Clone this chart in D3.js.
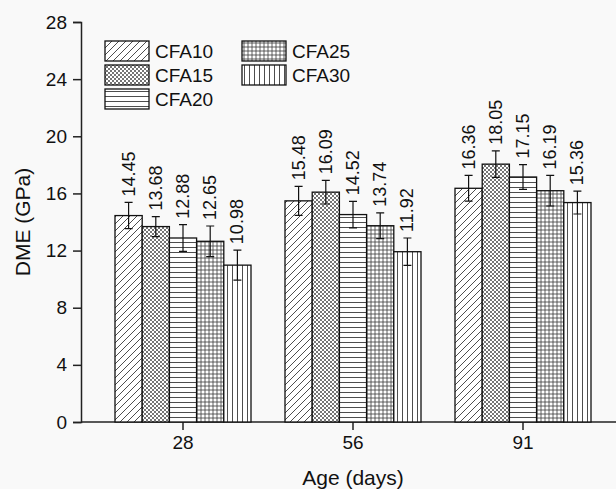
<!DOCTYPE html>
<html>
<head>
<meta charset="utf-8">
<script src="https://cdn.jsdelivr.net/npm/d3@7"></script>
<style>
  body { margin: 0; background: #f9f9f9; }
  svg { display: block; font-family: Arial, "Liberation Sans", sans-serif; }
</style>
</head>
<body>
<div id="chart"><svg></svg></div>
<script>
// data
var ages = ["28", "56", "91"];
var series = ["CFA10", "CFA15", "CFA20", "CFA25", "CFA30"];
var cfa10 = [14.45, 15.48, 16.36];
var cfa15 = [13.68, 16.09, 18.05];
var cfa20 = [12.88, 14.52, 17.15];
var cfa25 = [12.65, 13.74, 16.19];
var cfa30 = [10.98, 11.92, 15.36];
var err10 = [0.92, 1.02, 0.90];
var err15 = [0.70, 0.83, 0.93];
var err20 = [0.93, 0.93, 0.87];
var err25 = [1.07, 0.90, 1.07];
var err30 = [1.05, 0.96, 0.80];
var yTicks = [0, 4, 8, 12, 16, 20, 24, 28];

var values = [cfa10, cfa15, cfa20, cfa25, cfa30],
    errors = [err10, err15, err20, err25, err30];

var width = 616, height = 489,
    margin = { top: 22, right: 0, bottom: 67, left: 81 },
    font = "Arial, 'Liberation Sans', sans-serif";

var svg = d3.select("#chart svg")
    .attr("width", width)
    .attr("height", height);

svg.append("rect")
    .attr("width", width)
    .attr("height", height)
    .attr("fill", "#f9f9f9");

// hatch patterns
var defs = svg.append("defs");
var ink = "#3a3a3a";

function pattern(id, size, d, sw) {
    var p = defs.append("pattern")
        .attr("id", id)
        .attr("patternUnits", "userSpaceOnUse")
        .attr("width", size)
        .attr("height", size);
    p.append("rect").attr("width", size).attr("height", size).attr("fill", "#fff");
    p.append("path").attr("d", d).attr("stroke", ink).attr("stroke-width", sw).attr("fill", "none");
}
pattern("p0", 7, "M0,7L7,0M-1,1L1,-1M6,8L8,6", 0.9);
pattern("p1", 4, "M0,4L4,0M-1,1L1,-1M3,5L5,3M0,0L4,4M-1,3L1,5M3,-1L5,1", 0.7);
pattern("p2", 5, "M0,2.5H5", 0.9);
pattern("p3", 4, "M0,2H4M2,0V4", 0.8);
pattern("p4", 5, "M2.5,0V5", 0.9);

var y = d3.scaleLinear()
    .domain([0, 28])
    .range([height - margin.bottom, margin.top]);

var x0 = d3.scaleBand()
    .domain(ages)
    .range([98, 608])
    .paddingInner(0.2)
    .paddingOuter(0.1);

var x1 = d3.scaleBand()
    .domain(series)
    .range([0, x0.bandwidth()]);

// axes
var yAxis = svg.append("g")
    .attr("transform", "translate(" + margin.left + ",0)")
    .call(d3.axisLeft(y).tickValues(yTicks).tickSize(8).tickPadding(6));

var xAxis = svg.append("g")
    .attr("transform", "translate(0," + y(0) + ")")
    .call(d3.axisBottom(x0).tickSize(8).tickPadding(6));

xAxis.select(".domain").attr("d", "M" + margin.left + ",0H" + width);

[yAxis, xAxis].forEach(function(a) {
    a.attr("font-family", font).attr("font-size", 19);
    a.selectAll("path, line").attr("stroke", "#222").attr("stroke-width", 1.5);
    a.selectAll("text").attr("fill", "#111");
});

// bars
var groups = svg.append("g").selectAll("g")
    .data(ages)
    .join("g")
    .attr("transform", function(d) { return "translate(" + x0(d) + ",0)"; });

var cells = groups.selectAll("g")
    .data(function(d, i) {
        return series.map(function(s, j) {
            return { s: s, j: j, v: values[j][i], e: errors[j][i] };
        });
    })
    .join("g");

cells.append("rect")
    .attr("x", function(d) { return x1(d.s); })
    .attr("y", function(d) { return y(d.v); })
    .attr("width", x1.bandwidth())
    .attr("height", function(d) { return y(0) - y(d.v); })
    .attr("fill", function(d) { return "url(#p" + d.j + ")"; })
    .attr("stroke", "#111")
    .attr("stroke-width", 1.3);

var cx = function(d) { return x1(d.s) + x1.bandwidth() / 2; };

cells.append("path")
    .attr("d", function(d) {
        var c = cx(d), t = y(d.v + d.e), b = y(d.v - d.e);
        return "M" + c + "," + t + "V" + b +
               "M" + (c - 4) + "," + t + "H" + (c + 4) +
               "M" + (c - 4) + "," + b + "H" + (c + 4);
    })
    .attr("stroke", "#111")
    .attr("stroke-width", 1.2)
    .attr("fill", "none");

cells.append("text")
    .attr("transform", function(d) {
        return "translate(" + cx(d) + "," + (y(d.v + d.e) - 6) + ") rotate(-90)";
    })
    .attr("dominant-baseline", "central")
    .style("font-size", "18px")
    .attr("fill", "#111")
    .text(function(d) { return d3.format(".2f")(d.v); });

// axis titles
svg.append("text")
    .attr("transform", "translate(22," + y(14) + ") rotate(-90)")
    .attr("text-anchor", "middle")
    .attr("dominant-baseline", "central")
    .style("font-size", "21px")
    .attr("fill", "#111")
    .text("DME (GPa)");

svg.append("text")
    .attr("x", x0("56") + x0.bandwidth() / 2)
    .attr("y", 485)
    .attr("text-anchor", "middle")
    .style("font-size", "21px")
    .attr("fill", "#111")
    .text("Age (days)");

// legend
var legend = svg.append("g").selectAll("g")
    .data(series)
    .join("g")
    .attr("transform", function(d, i) {
        var col = i < 3 ? 0 : 1, row = i < 3 ? i : i - 3;
        return "translate(" + (105 + col * 137) + "," + (41 + row * 24) + ")";
    });

legend.append("rect")
    .attr("width", 44)
    .attr("height", 20)
    .attr("fill", function(d, i) { return "url(#p" + i + ")"; })
    .attr("stroke", "#111")
    .attr("stroke-width", 1.3);

legend.append("text")
    .attr("x", 50)
    .attr("y", 10)
    .attr("dominant-baseline", "central")
    .style("font-size", "19px")
    .attr("fill", "#111")
    .text(function(d) { return d; });
</script>
</body>
</html>
